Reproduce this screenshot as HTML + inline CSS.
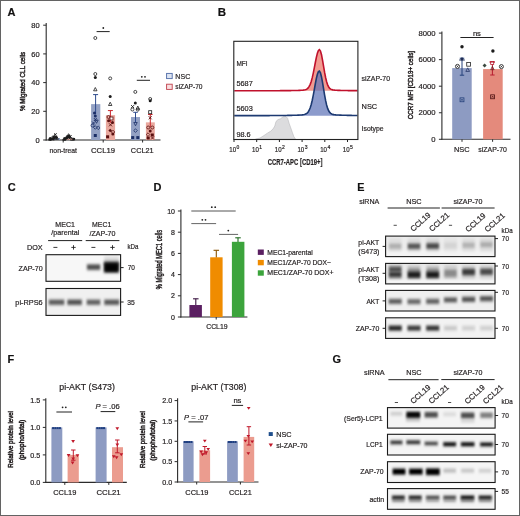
<!DOCTYPE html>
<html><head><meta charset="utf-8"><style>
html,body{margin:0;padding:0;background:#fff;}
svg{display:block;font-family:"Liberation Sans", sans-serif;will-change:transform;}
svg text{stroke:#231f20;stroke-width:0.2px;}
</style></head><body>
<svg width="520" height="516" viewBox="0 0 520 516">
<defs>
<linearGradient id="smear" x1="0" y1="0" x2="0" y2="1"><stop offset="0" stop-color="#000" stop-opacity="0.03"/><stop offset="0.6" stop-color="#000" stop-opacity="0.18"/><stop offset="1" stop-color="#000" stop-opacity="0.55"/></linearGradient>
<filter id="soft" filterUnits="userSpaceOnUse" x="0" y="0" width="520" height="516"><feGaussianBlur stdDeviation="0.45"/></filter>
<filter id="bl1" x="-20%" y="-50%" width="140%" height="200%"><feGaussianBlur stdDeviation="0.8"/></filter>
<filter id="bl2" x="-20%" y="-80%" width="140%" height="260%"><feGaussianBlur stdDeviation="1.2"/></filter>
</defs>
<rect x="0" y="0" width="520" height="516" fill="#fff"/>
<text x="7.60" y="15.80" font-size="11" text-anchor="start" font-weight="bold" fill="#111" stroke="#111" stroke-width="0.35">A</text>
<line x1="46.20" y1="23.00" x2="46.20" y2="140.50" stroke="#2b2b2b" stroke-width="1.1"/>
<line x1="45.70" y1="140.00" x2="160.50" y2="140.00" stroke="#2b2b2b" stroke-width="1.1"/>
<line x1="43.20" y1="140.00" x2="46.20" y2="140.00" stroke="#2b2b2b" stroke-width="1.0"/>
<text x="39.70" y="142.60" font-size="7.5" text-anchor="end" font-weight="normal" fill="#231f20" >0</text>
<line x1="43.20" y1="111.30" x2="46.20" y2="111.30" stroke="#2b2b2b" stroke-width="1.0"/>
<text x="39.70" y="113.90" font-size="7.5" text-anchor="end" font-weight="normal" fill="#231f20" >20</text>
<line x1="43.20" y1="82.60" x2="46.20" y2="82.60" stroke="#2b2b2b" stroke-width="1.0"/>
<text x="39.70" y="85.20" font-size="7.5" text-anchor="end" font-weight="normal" fill="#231f20" >40</text>
<line x1="43.20" y1="53.90" x2="46.20" y2="53.90" stroke="#2b2b2b" stroke-width="1.0"/>
<text x="39.70" y="56.50" font-size="7.5" text-anchor="end" font-weight="normal" fill="#231f20" >60</text>
<line x1="43.20" y1="25.20" x2="46.20" y2="25.20" stroke="#2b2b2b" stroke-width="1.0"/>
<text x="39.70" y="27.80" font-size="7.5" text-anchor="end" font-weight="normal" fill="#231f20" >80</text>
<text x="25.40" y="111.10" font-size="7.2" font-weight="normal" fill="#231f20" style="stroke-width:0.45px" textLength="59.40" lengthAdjust="spacingAndGlyphs" transform="rotate(-90 25.40 111.10)">% Migrated CLL cells</text>
<line x1="63.20" y1="140.00" x2="63.20" y2="142.50" stroke="#2b2b2b" stroke-width="1.0"/>
<line x1="103.20" y1="140.00" x2="103.20" y2="142.50" stroke="#2b2b2b" stroke-width="1.0"/>
<line x1="142.60" y1="140.00" x2="142.60" y2="142.50" stroke="#2b2b2b" stroke-width="1.0"/>
<text x="49.55" y="152.50" font-size="7.6" font-weight="normal" fill="#231f20" textLength="27.40" lengthAdjust="spacingAndGlyphs" >non-treat</text>
<text x="91.05" y="152.60" font-size="7.6" font-weight="normal" fill="#231f20" textLength="24.00" lengthAdjust="spacingAndGlyphs" >CCL19</text>
<text x="130.85" y="152.60" font-size="7.6" font-weight="normal" fill="#231f20" textLength="22.80" lengthAdjust="spacingAndGlyphs" >CCL21</text>
<rect x="51.00" y="137.99" width="9.00" height="2.01" fill="#93a1c4" stroke="none" stroke-width="0" />
<rect x="65.50" y="138.28" width="9.00" height="1.72" fill="#e9a89e" stroke="none" stroke-width="0" />
<rect x="91.10" y="104.12" width="9.20" height="35.88" fill="#93a1c4" stroke="none" stroke-width="0" />
<rect x="105.90" y="115.17" width="9.20" height="24.83" fill="#e9a89e" stroke="none" stroke-width="0" />
<rect x="131.00" y="117.04" width="9.00" height="22.96" fill="#93a1c4" stroke="none" stroke-width="0" />
<rect x="145.90" y="122.35" width="8.90" height="17.65" fill="#e9a89e" stroke="none" stroke-width="0" />
<line x1="95.60" y1="114.17" x2="95.60" y2="94.60" stroke="#2e4a8c" stroke-width="1.0"/>
<line x1="93.10" y1="94.60" x2="98.10" y2="94.60" stroke="#2e4a8c" stroke-width="1.0"/>
<line x1="110.40" y1="122.78" x2="110.40" y2="110.58" stroke="#c8282e" stroke-width="1.0"/>
<line x1="107.90" y1="110.58" x2="112.90" y2="110.58" stroke="#c8282e" stroke-width="1.0"/>
<line x1="135.50" y1="122.06" x2="135.50" y2="112.30" stroke="#2e4a8c" stroke-width="1.0"/>
<line x1="133.25" y1="112.30" x2="137.75" y2="112.30" stroke="#2e4a8c" stroke-width="1.0"/>
<line x1="150.30" y1="127.08" x2="150.30" y2="114.50" stroke="#c8282e" stroke-width="1.0"/>
<line x1="148.05" y1="114.50" x2="152.55" y2="114.50" stroke="#c8282e" stroke-width="1.0"/>
<circle cx="95.30" cy="38.00" r="1.50" fill="none" stroke="#1c1c1c" stroke-width="0.8"/>
<circle cx="95.30" cy="74.00" r="1.50" fill="none" stroke="#1c1c1c" stroke-width="0.8"/>
<circle cx="95.30" cy="77.40" r="1.50" fill="#1c1c1c"/>
<path d="M95.30 87.50 L97.00 90.80 L93.60 90.80Z" fill="none" stroke="#1c1c1c" stroke-width="0.8"/>
<circle cx="95.30" cy="116.00" r="1.50" fill="#1b2e66"/>
<path d="M93.80 118.00L96.80 121.00M96.80 118.00L93.80 121.00" stroke="#1b2e66" stroke-width="0.9"/>
<path d="M94.80 120.00 L98.20 120.00 L96.50 123.30Z" fill="none" stroke="#1b2e66" stroke-width="0.8"/>
<circle cx="92.50" cy="125.50" r="1.50" fill="none" stroke="#1b2e66" stroke-width="0.8"/>
<path d="M95.30 125.70 L97.10 127.50 L95.30 129.30 L93.50 127.50Z" fill="none" stroke="#1b2e66" stroke-width="0.8"/>
<path d="M98.20 126.00 L100.00 127.80 L98.20 129.60 L96.40 127.80Z" fill="none" stroke="#1b2e66" stroke-width="0.8"/>
<rect x="93.80" y="134.00" width="3.00" height="3.00" fill="#1b2e66"/>
<path d="M92.00 121.50L95.00 124.50M95.00 121.50L92.00 124.50" stroke="#1b2e66" stroke-width="0.9"/>
<circle cx="94.50" cy="113.00" r="1.50" fill="#1b2e66"/>
<circle cx="110.20" cy="78.40" r="1.50" fill="none" stroke="#1c1c1c" stroke-width="0.8"/>
<circle cx="110.20" cy="96.40" r="1.50" fill="#1c1c1c"/>
<path d="M110.20 102.20 L111.90 105.50 L108.50 105.50Z" fill="none" stroke="#1c1c1c" stroke-width="0.8"/>
<circle cx="108.50" cy="117.00" r="1.50" fill="none" stroke="#5a1010" stroke-width="0.8"/>
<rect x="110.00" y="117.00" width="3.00" height="3.00" fill="#fff" stroke="#5a1010" stroke-width="0.8"/>
<circle cx="108.60" cy="120.80" r="1.50" fill="#5a1010"/>
<path d="M109.00 123.30L112.00 126.30M112.00 123.30L109.00 126.30" stroke="#5a1010" stroke-width="0.9"/>
<circle cx="112.50" cy="122.50" r="1.50" fill="#5a1010"/>
<path d="M110.20 128.70 L112.00 130.50 L110.20 132.30 L108.40 130.50Z" fill="#5a1010"/>
<path d="M113.00 130.20 L114.80 132.00 L113.00 133.80 L111.20 132.00Z" fill="none" stroke="#5a1010" stroke-width="0.8"/>
<rect x="106.10" y="135.30" width="3.00" height="3.00" fill="#5a1010"/>
<circle cx="112.80" cy="134.00" r="1.50" fill="#5a1010"/>
<circle cx="135.30" cy="91.90" r="1.50" fill="none" stroke="#1c1c1c" stroke-width="0.8"/>
<circle cx="135.30" cy="102.90" r="1.50" fill="#1c1c1c"/>
<path d="M131.10 105.10L134.10 108.10M134.10 105.10L131.10 108.10" stroke="#1c1c1c" stroke-width="0.9"/>
<path d="M137.80 106.00 L139.50 109.30 L136.10 109.30Z" fill="none" stroke="#1c1c1c" stroke-width="0.8"/>
<circle cx="132.40" cy="109.50" r="1.50" fill="none" stroke="#1c1c1c" stroke-width="0.8"/>
<circle cx="137.80" cy="109.60" r="1.50" fill="none" stroke="#1c1c1c" stroke-width="0.8"/>
<path d="M133.80 122.50 L137.20 122.50 L135.50 125.80Z" fill="none" stroke="#1b2e66" stroke-width="0.8"/>
<path d="M135.50 128.80 L137.30 130.60 L135.50 132.40 L133.70 130.60Z" fill="none" stroke="#1b2e66" stroke-width="0.8"/>
<rect x="131.20" y="136.10" width="3.00" height="3.00" fill="#1b2e66"/>
<rect x="136.30" y="136.10" width="3.00" height="3.00" fill="#1b2e66"/>
<circle cx="150.20" cy="100.80" r="1.50" fill="#1c1c1c"/>
<circle cx="150.20" cy="99.00" r="1.50" fill="none" stroke="#1c1c1c" stroke-width="0.8"/>
<rect x="148.70" y="110.70" width="3.00" height="3.00" fill="#fff" stroke="#1c1c1c" stroke-width="0.8"/>
<path d="M148.70 116.30L151.70 119.30M151.70 116.30L148.70 119.30" stroke="#5a1010" stroke-width="0.9"/>
<circle cx="148.20" cy="127.50" r="1.50" fill="none" stroke="#5a1010" stroke-width="0.8"/>
<circle cx="152.30" cy="127.50" r="1.50" fill="none" stroke="#5a1010" stroke-width="0.8"/>
<path d="M148.00 132.80 L149.80 134.60 L148.00 136.40 L146.20 134.60Z" fill="none" stroke="#5a1010" stroke-width="0.8"/>
<rect x="150.80" y="133.50" width="3.00" height="3.00" fill="#5a1010"/>
<circle cx="150.20" cy="131.00" r="1.50" fill="#5a1010"/>
<rect x="146.70" y="136.50" width="3.00" height="3.00" fill="#5a1010"/>
<path d="M151.00 136.50L154.00 139.50M154.00 136.50L151.00 139.50" stroke="#5a1010" stroke-width="0.9"/>
<circle cx="53.06" cy="138.82" r="1.20" fill="#1c1c1c"/>
<circle cx="50.03" cy="138.93" r="1.20" fill="#1c1c1c"/>
<rect x="52.32" y="137.83" width="2.40" height="2.40" fill="#1c1c1c"/>
<path d="M50.66 137.88L53.06 140.28M53.06 137.88L50.66 140.28" stroke="#1c1c1c" stroke-width="0.9"/>
<path d="M49.07 137.96L51.47 140.36M51.47 137.96L49.07 140.36" stroke="#1c1c1c" stroke-width="0.9"/>
<circle cx="50.15" cy="139.00" r="1.20" fill="none" stroke="#1c1c1c" stroke-width="0.8"/>
<circle cx="56.44" cy="137.48" r="1.20" fill="#1c1c1c"/>
<circle cx="55.85" cy="137.87" r="1.20" fill="none" stroke="#1c1c1c" stroke-width="0.8"/>
<path d="M50.01 137.43 L51.41 140.13 L48.61 140.13Z" fill="none" stroke="#1c1c1c" stroke-width="0.8"/>
<rect x="52.91" y="136.20" width="2.40" height="2.40" fill="#1c1c1c"/>
<circle cx="52.89" cy="137.30" r="1.20" fill="none" stroke="#1c1c1c" stroke-width="0.8"/>
<circle cx="50.63" cy="138.88" r="1.20" fill="none" stroke="#1c1c1c" stroke-width="0.8"/>
<circle cx="53.60" cy="137.57" r="1.20" fill="#1c1c1c"/>
<path d="M54.51 135.88L56.91 138.28M56.91 135.88L54.51 138.28" stroke="#1c1c1c" stroke-width="0.9"/>
<path d="M56.98 136.65 L58.38 139.35 L55.58 139.35Z" fill="none" stroke="#1c1c1c" stroke-width="0.8"/>
<path d="M54.62 134.42 L56.02 137.12 L53.22 137.12Z" fill="none" stroke="#1c1c1c" stroke-width="0.8"/>
<circle cx="66.60" cy="137.42" r="1.20" fill="#1c1c1c"/>
<path d="M71.88 137.58 L73.28 140.28 L70.48 140.28Z" fill="none" stroke="#1c1c1c" stroke-width="0.8"/>
<circle cx="69.08" cy="136.07" r="1.20" fill="#1c1c1c"/>
<circle cx="68.24" cy="137.07" r="1.20" fill="#1c1c1c"/>
<path d="M64.60 137.43 L66.00 140.13 L63.20 140.13Z" fill="none" stroke="#1c1c1c" stroke-width="0.8"/>
<circle cx="64.97" cy="138.78" r="1.20" fill="#1c1c1c"/>
<rect x="72.68" y="137.98" width="2.40" height="2.40" fill="#1c1c1c"/>
<path d="M69.60 134.74 L71.00 137.44 L68.20 137.44Z" fill="none" stroke="#1c1c1c" stroke-width="0.8"/>
<path d="M65.84 137.07L68.24 139.47M68.24 137.07L65.84 139.47" stroke="#1c1c1c" stroke-width="0.9"/>
<circle cx="69.68" cy="137.68" r="1.20" fill="#1c1c1c"/>
<circle cx="73.69" cy="139.04" r="1.20" fill="#1c1c1c"/>
<path d="M64.01 137.42 L65.41 140.12 L62.61 140.12Z" fill="none" stroke="#1c1c1c" stroke-width="0.8"/>
<path d="M69.22 135.23L71.62 137.63M71.62 135.23L69.22 137.63" stroke="#1c1c1c" stroke-width="0.9"/>
<circle cx="66.43" cy="138.40" r="1.20" fill="#1c1c1c"/>
<path d="M67.12 135.13 L68.52 137.83 L65.72 137.83Z" fill="none" stroke="#1c1c1c" stroke-width="0.8"/>
<circle cx="65.15" cy="139.09" r="1.20" fill="#1c1c1c"/>
<path d="M54.30 133.20L56.70 135.60M56.70 133.20L54.30 135.60" stroke="#1c1c1c" stroke-width="0.9"/>
<path d="M68.50 133.70 L69.90 136.40 L67.10 136.40Z" fill="none" stroke="#1c1c1c" stroke-width="0.8"/>
<line x1="96.60" y1="31.60" x2="109.70" y2="31.60" stroke="#222" stroke-width="1.0"/>
<circle cx="103.30" cy="28.00" r="0.9" fill="#222"/>
<line x1="136.80" y1="80.30" x2="150.00" y2="80.30" stroke="#222" stroke-width="1.0"/>
<circle cx="141.80" cy="76.80" r="0.9" fill="#222"/>
<circle cx="145.00" cy="76.80" r="0.9" fill="#222"/>
<rect x="166.6" y="73.4" width="5.6" height="5.2" fill="#dde4f2" stroke="#4e6aa6" stroke-width="0.9"/>
<rect x="166.6" y="84.2" width="5.6" height="5.2" fill="#f8dde0" stroke="#c0404a" stroke-width="0.9"/>
<text x="175.35" y="78.60" font-size="7.6" font-weight="normal" fill="#231f20" textLength="14.90" lengthAdjust="spacingAndGlyphs" >NSC</text>
<text x="175.35" y="89.40" font-size="7.6" font-weight="normal" fill="#231f20" textLength="27.20" lengthAdjust="spacingAndGlyphs" >siZAP-70</text>
<text x="217.80" y="16.00" font-size="11.5" text-anchor="start" font-weight="bold" fill="#111" stroke="#111" stroke-width="0.35">B</text>
<path d="M255.50 139.20 L260.00 138.00 L264.00 135.50 L267.30 133.20 L270.50 131.30 L273.00 129.00 L274.80 126.00 L276.00 121.50 L278.00 119.60 L280.50 118.80 L282.50 117.20 L284.20 116.30 L286.00 116.60 L287.60 118.20 L289.20 123.50 L290.80 128.00 L292.30 132.30 L293.80 136.50 L295.50 139.20Z" fill="#dcdcde" stroke="#b8b8bc" stroke-width="0.6"/>
<path d="M234.30 90.77 L235.33 90.77 L236.35 90.77 L237.38 90.77 L238.40 90.77 L239.43 90.77 L240.46 90.77 L241.48 90.77 L242.51 90.77 L243.53 90.77 L244.56 90.76 L245.58 90.76 L246.61 90.76 L247.64 90.76 L248.66 90.76 L249.69 90.76 L250.71 90.76 L251.74 90.76 L252.77 90.76 L253.79 90.75 L254.82 90.75 L255.84 90.75 L256.87 90.75 L257.89 90.75 L258.92 90.75 L259.95 90.74 L260.97 90.74 L262.00 90.74 L263.02 90.74 L264.05 90.74 L265.07 90.73 L266.10 90.73 L267.13 90.73 L268.15 90.73 L269.18 90.72 L270.20 90.72 L271.23 90.72 L272.26 90.71 L273.28 90.71 L274.31 90.71 L275.33 90.70 L276.36 90.70 L277.38 90.69 L278.41 90.69 L279.44 90.68 L280.46 90.67 L281.49 90.67 L282.51 90.66 L283.54 90.65 L284.57 90.65 L285.59 90.64 L286.62 90.63 L287.64 90.62 L288.67 90.60 L289.69 90.59 L290.72 90.58 L291.75 90.56 L292.77 90.55 L293.80 90.53 L294.82 90.51 L295.85 90.48 L296.88 90.46 L297.90 90.43 L298.93 90.40 L299.95 90.36 L300.98 90.31 L302.00 90.25 L303.03 90.16 L304.06 90.02 L305.08 89.79 L306.11 89.43 L307.13 88.83 L308.16 87.88 L309.19 86.43 L310.21 84.32 L311.24 81.42 L312.26 77.66 L313.29 73.08 L314.31 67.90 L315.34 62.51 L316.37 57.42 L317.39 53.24 L318.42 50.50 L319.44 49.60 L320.47 51.00 L321.50 54.69 L322.52 60.03 L323.55 66.14 L324.57 72.16 L325.60 77.47 L326.62 81.72 L327.65 84.84 L328.68 86.97 L329.70 88.33 L330.73 89.14 L331.75 89.61 L332.78 89.89 L333.81 90.05 L334.83 90.15 L335.86 90.22 L336.88 90.28 L337.91 90.33 L338.94 90.37 L339.96 90.40 L340.99 90.43 L342.01 90.46 L343.04 90.49 L344.06 90.51 L345.09 90.53 L346.12 90.55 L347.14 90.56 L348.17 90.58 L349.19 90.59 L350.22 90.61 L351.25 90.62 L352.27 90.63 L353.30 90.64 L354.32 90.65 L355.35 90.65 L356.37 90.66 L357.40 90.67 L357.40 90.8 L234.30 90.8Z" fill="#f08a7c" fill-opacity="0.85" stroke="none"/>
<path d="M234.30 90.77 L235.33 90.77 L236.35 90.77 L237.38 90.77 L238.40 90.77 L239.43 90.77 L240.46 90.77 L241.48 90.77 L242.51 90.77 L243.53 90.77 L244.56 90.76 L245.58 90.76 L246.61 90.76 L247.64 90.76 L248.66 90.76 L249.69 90.76 L250.71 90.76 L251.74 90.76 L252.77 90.76 L253.79 90.75 L254.82 90.75 L255.84 90.75 L256.87 90.75 L257.89 90.75 L258.92 90.75 L259.95 90.74 L260.97 90.74 L262.00 90.74 L263.02 90.74 L264.05 90.74 L265.07 90.73 L266.10 90.73 L267.13 90.73 L268.15 90.73 L269.18 90.72 L270.20 90.72 L271.23 90.72 L272.26 90.71 L273.28 90.71 L274.31 90.71 L275.33 90.70 L276.36 90.70 L277.38 90.69 L278.41 90.69 L279.44 90.68 L280.46 90.67 L281.49 90.67 L282.51 90.66 L283.54 90.65 L284.57 90.65 L285.59 90.64 L286.62 90.63 L287.64 90.62 L288.67 90.60 L289.69 90.59 L290.72 90.58 L291.75 90.56 L292.77 90.55 L293.80 90.53 L294.82 90.51 L295.85 90.48 L296.88 90.46 L297.90 90.43 L298.93 90.40 L299.95 90.36 L300.98 90.31 L302.00 90.25 L303.03 90.16 L304.06 90.02 L305.08 89.79 L306.11 89.43 L307.13 88.83 L308.16 87.88 L309.19 86.43 L310.21 84.32 L311.24 81.42 L312.26 77.66 L313.29 73.08 L314.31 67.90 L315.34 62.51 L316.37 57.42 L317.39 53.24 L318.42 50.50 L319.44 49.60 L320.47 51.00 L321.50 54.69 L322.52 60.03 L323.55 66.14 L324.57 72.16 L325.60 77.47 L326.62 81.72 L327.65 84.84 L328.68 86.97 L329.70 88.33 L330.73 89.14 L331.75 89.61 L332.78 89.89 L333.81 90.05 L334.83 90.15 L335.86 90.22 L336.88 90.28 L337.91 90.33 L338.94 90.37 L339.96 90.40 L340.99 90.43 L342.01 90.46 L343.04 90.49 L344.06 90.51 L345.09 90.53 L346.12 90.55 L347.14 90.56 L348.17 90.58 L349.19 90.59 L350.22 90.61 L351.25 90.62 L352.27 90.63 L353.30 90.64 L354.32 90.65 L355.35 90.65 L356.37 90.66 L357.40 90.67" fill="none" stroke="#c0112c" stroke-width="1.6"/>
<path d="M234.30 115.66 L235.33 115.66 L236.35 115.66 L237.38 115.65 L238.40 115.65 L239.43 115.65 L240.46 115.65 L241.48 115.65 L242.51 115.65 L243.53 115.65 L244.56 115.64 L245.58 115.64 L246.61 115.64 L247.64 115.64 L248.66 115.64 L249.69 115.64 L250.71 115.63 L251.74 115.63 L252.77 115.63 L253.79 115.63 L254.82 115.63 L255.84 115.62 L256.87 115.62 L257.89 115.62 L258.92 115.62 L259.95 115.61 L260.97 115.61 L262.00 115.61 L263.02 115.60 L264.05 115.60 L265.07 115.60 L266.10 115.59 L267.13 115.59 L268.15 115.58 L269.18 115.58 L270.20 115.57 L271.23 115.57 L272.26 115.56 L273.28 115.56 L274.31 115.55 L275.33 115.55 L276.36 115.54 L277.38 115.53 L278.41 115.52 L279.44 115.51 L280.46 115.50 L281.49 115.49 L282.51 115.48 L283.54 115.47 L284.57 115.46 L285.59 115.45 L286.62 115.43 L287.64 115.41 L288.67 115.40 L289.69 115.38 L290.72 115.36 L291.75 115.33 L292.77 115.31 L293.80 115.28 L294.82 115.25 L295.85 115.21 L296.88 115.18 L297.90 115.13 L298.93 115.09 L299.95 115.03 L300.98 114.96 L302.00 114.87 L303.03 114.75 L304.06 114.57 L305.08 114.28 L306.11 113.82 L307.13 113.09 L308.16 111.96 L309.19 110.25 L310.21 107.81 L311.24 104.49 L312.26 100.25 L313.29 95.17 L314.31 89.52 L315.34 83.74 L316.37 78.42 L317.39 74.19 L318.42 71.61 L319.44 71.07 L320.47 72.91 L321.50 76.93 L322.52 82.48 L323.55 88.74 L324.57 94.93 L325.60 100.46 L326.62 104.97 L327.65 108.38 L328.68 110.79 L329.70 112.39 L330.73 113.40 L331.75 114.01 L332.78 114.38 L333.81 114.60 L334.83 114.75 L335.86 114.86 L336.88 114.94 L337.91 115.00 L338.94 115.06 L339.96 115.11 L340.99 115.16 L342.01 115.20 L343.04 115.23 L344.06 115.26 L345.09 115.29 L346.12 115.32 L347.14 115.34 L348.17 115.37 L349.19 115.39 L350.22 115.41 L351.25 115.42 L352.27 115.44 L353.30 115.45 L354.32 115.47 L355.35 115.48 L356.37 115.49 L357.40 115.50 L357.40 115.7 L234.30 115.7Z" fill="#5f75b8" fill-opacity="0.72" stroke="none"/>
<path d="M234.30 115.66 L235.33 115.66 L236.35 115.66 L237.38 115.65 L238.40 115.65 L239.43 115.65 L240.46 115.65 L241.48 115.65 L242.51 115.65 L243.53 115.65 L244.56 115.64 L245.58 115.64 L246.61 115.64 L247.64 115.64 L248.66 115.64 L249.69 115.64 L250.71 115.63 L251.74 115.63 L252.77 115.63 L253.79 115.63 L254.82 115.63 L255.84 115.62 L256.87 115.62 L257.89 115.62 L258.92 115.62 L259.95 115.61 L260.97 115.61 L262.00 115.61 L263.02 115.60 L264.05 115.60 L265.07 115.60 L266.10 115.59 L267.13 115.59 L268.15 115.58 L269.18 115.58 L270.20 115.57 L271.23 115.57 L272.26 115.56 L273.28 115.56 L274.31 115.55 L275.33 115.55 L276.36 115.54 L277.38 115.53 L278.41 115.52 L279.44 115.51 L280.46 115.50 L281.49 115.49 L282.51 115.48 L283.54 115.47 L284.57 115.46 L285.59 115.45 L286.62 115.43 L287.64 115.41 L288.67 115.40 L289.69 115.38 L290.72 115.36 L291.75 115.33 L292.77 115.31 L293.80 115.28 L294.82 115.25 L295.85 115.21 L296.88 115.18 L297.90 115.13 L298.93 115.09 L299.95 115.03 L300.98 114.96 L302.00 114.87 L303.03 114.75 L304.06 114.57 L305.08 114.28 L306.11 113.82 L307.13 113.09 L308.16 111.96 L309.19 110.25 L310.21 107.81 L311.24 104.49 L312.26 100.25 L313.29 95.17 L314.31 89.52 L315.34 83.74 L316.37 78.42 L317.39 74.19 L318.42 71.61 L319.44 71.07 L320.47 72.91 L321.50 76.93 L322.52 82.48 L323.55 88.74 L324.57 94.93 L325.60 100.46 L326.62 104.97 L327.65 108.38 L328.68 110.79 L329.70 112.39 L330.73 113.40 L331.75 114.01 L332.78 114.38 L333.81 114.60 L334.83 114.75 L335.86 114.86 L336.88 114.94 L337.91 115.00 L338.94 115.06 L339.96 115.11 L340.99 115.16 L342.01 115.20 L343.04 115.23 L344.06 115.26 L345.09 115.29 L346.12 115.32 L347.14 115.34 L348.17 115.37 L349.19 115.39 L350.22 115.41 L351.25 115.42 L352.27 115.44 L353.30 115.45 L354.32 115.47 L355.35 115.48 L356.37 115.49 L357.40 115.50" fill="none" stroke="#1d3a72" stroke-width="1.6"/>
<rect x="233.80" y="41.30" width="124.10" height="98.20" fill="none" stroke="#222" stroke-width="1.1"/>
<line x1="234.00" y1="139.50" x2="234.00" y2="142.00" stroke="#222" stroke-width="1.0"/>
<text x="229.35" y="152.10" font-size="7.2" font-weight="normal" fill="#231f20" textLength="6.80" lengthAdjust="spacingAndGlyphs" >10</text>
<text x="236.60" y="149.2" font-size="5.0" fill="#231f20">0</text>
<line x1="256.70" y1="139.50" x2="256.70" y2="142.00" stroke="#222" stroke-width="1.0"/>
<text x="252.05" y="152.10" font-size="7.2" font-weight="normal" fill="#231f20" textLength="6.80" lengthAdjust="spacingAndGlyphs" >10</text>
<text x="259.30" y="149.2" font-size="5.0" fill="#231f20">1</text>
<line x1="279.40" y1="139.50" x2="279.40" y2="142.00" stroke="#222" stroke-width="1.0"/>
<text x="274.75" y="152.10" font-size="7.2" font-weight="normal" fill="#231f20" textLength="6.80" lengthAdjust="spacingAndGlyphs" >10</text>
<text x="282.00" y="149.2" font-size="5.0" fill="#231f20">2</text>
<line x1="302.10" y1="139.50" x2="302.10" y2="142.00" stroke="#222" stroke-width="1.0"/>
<text x="297.45" y="152.10" font-size="7.2" font-weight="normal" fill="#231f20" textLength="6.80" lengthAdjust="spacingAndGlyphs" >10</text>
<text x="304.70" y="149.2" font-size="5.0" fill="#231f20">3</text>
<line x1="324.80" y1="139.50" x2="324.80" y2="142.00" stroke="#222" stroke-width="1.0"/>
<text x="320.15" y="152.10" font-size="7.2" font-weight="normal" fill="#231f20" textLength="6.80" lengthAdjust="spacingAndGlyphs" >10</text>
<text x="327.40" y="149.2" font-size="5.0" fill="#231f20">4</text>
<line x1="347.50" y1="139.50" x2="347.50" y2="142.00" stroke="#222" stroke-width="1.0"/>
<text x="342.85" y="152.10" font-size="7.2" font-weight="normal" fill="#231f20" textLength="6.80" lengthAdjust="spacingAndGlyphs" >10</text>
<text x="350.10" y="149.2" font-size="5.0" fill="#231f20">5</text>
<text x="267.80" y="164.70" font-size="8.6" font-weight="bold" fill="#231f20" textLength="54.60" lengthAdjust="spacingAndGlyphs" >CCR7-APC [CD19+]</text>
<text x="236.45" y="66.40" font-size="7.6" font-weight="normal" fill="#231f20" textLength="11.10" lengthAdjust="spacingAndGlyphs" >MFI</text>
<text x="236.45" y="85.80" font-size="7.6" font-weight="normal" fill="#231f20" textLength="16.30" lengthAdjust="spacingAndGlyphs" >5687</text>
<text x="236.45" y="110.90" font-size="7.6" font-weight="normal" fill="#231f20" textLength="16.30" lengthAdjust="spacingAndGlyphs" >5603</text>
<text x="236.45" y="136.70" font-size="7.6" font-weight="normal" fill="#231f20" textLength="14.20" lengthAdjust="spacingAndGlyphs" >98.6</text>
<text x="361.55" y="81.00" font-size="7.6" font-weight="normal" fill="#231f20" textLength="28.50" lengthAdjust="spacingAndGlyphs" >siZAP-70</text>
<text x="361.55" y="109.40" font-size="7.6" font-weight="normal" fill="#231f20" textLength="15.60" lengthAdjust="spacingAndGlyphs" >NSC</text>
<text x="361.55" y="131.20" font-size="7.6" font-weight="normal" fill="#231f20" textLength="22.10" lengthAdjust="spacingAndGlyphs" >Isotype</text>
<line x1="441.90" y1="31.50" x2="441.90" y2="139.80" stroke="#2b2b2b" stroke-width="1.1"/>
<line x1="441.40" y1="139.30" x2="510.50" y2="139.30" stroke="#2b2b2b" stroke-width="1.1"/>
<line x1="438.90" y1="139.30" x2="441.90" y2="139.30" stroke="#2b2b2b" stroke-width="1.0"/>
<text x="435.60" y="142.00" font-size="7.7" text-anchor="end" font-weight="normal" fill="#231f20" >0</text>
<line x1="438.90" y1="112.75" x2="441.90" y2="112.75" stroke="#2b2b2b" stroke-width="1.0"/>
<text x="435.60" y="115.45" font-size="7.7" text-anchor="end" font-weight="normal" fill="#231f20" >2000</text>
<line x1="438.90" y1="86.20" x2="441.90" y2="86.20" stroke="#2b2b2b" stroke-width="1.0"/>
<text x="435.60" y="88.90" font-size="7.7" text-anchor="end" font-weight="normal" fill="#231f20" >4000</text>
<line x1="438.90" y1="59.65" x2="441.90" y2="59.65" stroke="#2b2b2b" stroke-width="1.0"/>
<text x="435.60" y="62.35" font-size="7.7" text-anchor="end" font-weight="normal" fill="#231f20" >6000</text>
<line x1="438.90" y1="33.10" x2="441.90" y2="33.10" stroke="#2b2b2b" stroke-width="1.0"/>
<text x="435.60" y="35.80" font-size="7.7" text-anchor="end" font-weight="normal" fill="#231f20" >8000</text>
<text x="413.40" y="119.20" font-size="7.2" font-weight="normal" fill="#231f20" style="stroke-width:0.45px" textLength="68.20" lengthAdjust="spacingAndGlyphs" transform="rotate(-90 413.40 119.20)">CCR7 MFI [CD19+ cells]</text>
<rect x="452.20" y="68.10" width="19.50" height="71.20" fill="#8d9bc2" stroke="none" stroke-width="0" />
<rect x="483.10" y="69.10" width="19.60" height="70.20" fill="#e48a7c" stroke="none" stroke-width="0" />
<line x1="462.00" y1="139.30" x2="462.00" y2="141.80" stroke="#2b2b2b" stroke-width="1.0"/>
<line x1="492.60" y1="139.30" x2="492.60" y2="141.80" stroke="#2b2b2b" stroke-width="1.0"/>
<text x="453.95" y="152.40" font-size="7.6" font-weight="normal" fill="#231f20" textLength="15.70" lengthAdjust="spacingAndGlyphs" >NSC</text>
<text x="478.35" y="152.40" font-size="7.6" font-weight="normal" fill="#231f20" textLength="28.50" lengthAdjust="spacingAndGlyphs" >siZAP-70</text>
<line x1="460.40" y1="37.50" x2="493.60" y2="37.50" stroke="#222" stroke-width="1.0"/>
<text x="476.90" y="35.70" font-size="7.6" text-anchor="middle" font-weight="normal" fill="#231f20" >ns</text>
<line x1="462.00" y1="75.20" x2="462.00" y2="58.20" stroke="#24407a" stroke-width="1.0"/>
<line x1="459.75" y1="58.20" x2="464.25" y2="58.20" stroke="#24407a" stroke-width="1.0"/>
<line x1="492.40" y1="75.00" x2="492.40" y2="62.00" stroke="#b81c30" stroke-width="1.0"/>
<line x1="490.15" y1="62.00" x2="494.65" y2="62.00" stroke="#b81c30" stroke-width="1.0"/>
<line x1="459.80" y1="75.20" x2="464.20" y2="75.20" stroke="#24407a" stroke-width="1.0"/>
<line x1="490.20" y1="75.00" x2="494.60" y2="75.00" stroke="#b81c30" stroke-width="1.0"/>
<circle cx="462.00" cy="46.70" r="1.72" fill="#1c1c1c"/>
<path d="M462.00 57.10 L463.80 58.90 L462.00 60.70 L460.20 58.90Z" fill="#1f2d55"/>
<line x1="459.20" y1="60.00" x2="464.80" y2="60.00" stroke="#1f2d55" stroke-width="1.0"/>
<rect x="466.73" y="62.42" width="3.75" height="3.75" fill="#fff" stroke="#222" stroke-width="0.8"/>
<circle cx="457.50" cy="66.40" r="2.05" fill="#fff" stroke="#1c1c1c" stroke-width="0.8"/>
<path d="M456.51 65.41L458.49 67.39M458.49 65.41L456.51 67.39" stroke="#1c1c1c" stroke-width="0.7"/>
<path d="M467.70 67.85 L469.55 71.45 L465.85 71.45Z" fill="none" stroke="#2a3a6a" stroke-width="0.8"/>
<rect x="460.05" y="97.85" width="3.90" height="3.90" fill="none" stroke="#24407a" stroke-width="0.8"/>
<path d="M461.09 98.89L462.91 100.71M462.91 98.89L461.09 100.71" stroke="#24407a" stroke-width="0.7"/>
<circle cx="492.90" cy="51.00" r="1.72" fill="#1c1c1c"/>
<path d="M484.60 63.48 L486.63 65.50 L484.60 67.52 L482.57 65.50Z" fill="#3c4a40"/>
<rect x="490.70" y="61.50" width="3.00" height="3.00" fill="#fff" stroke="#b81c30" stroke-width="0.8"/>
<line x1="489.40" y1="62.00" x2="495.00" y2="62.00" stroke="#b81c30" stroke-width="1.0"/>
<circle cx="501.40" cy="66.60" r="2.05" fill="#fff" stroke="#1c1c1c" stroke-width="0.8"/>
<path d="M500.41 65.61L502.39 67.59M502.39 65.61L500.41 67.59" stroke="#1c1c1c" stroke-width="0.7"/>
<path d="M492.40 66.40 L494.10 69.70 L490.70 69.70Z" fill="none" stroke="#6a1a20" stroke-width="0.8"/>
<rect x="490.65" y="94.85" width="3.90" height="3.90" fill="none" stroke="#4a1010" stroke-width="0.8"/>
<path d="M491.69 95.89L493.51 97.71M493.51 95.89L491.69 97.71" stroke="#4a1010" stroke-width="0.7"/>
<text x="7.80" y="191.40" font-size="11" text-anchor="start" font-weight="bold" fill="#111" stroke="#111" stroke-width="0.35">C</text>
<text x="55.35" y="226.80" font-size="7.6" font-weight="normal" fill="#231f20" textLength="19.60" lengthAdjust="spacingAndGlyphs" >MEC1</text>
<text x="51.35" y="235.30" font-size="7.6" font-weight="normal" fill="#231f20" textLength="27.90" lengthAdjust="spacingAndGlyphs" >/parental</text>
<text x="92.05" y="226.80" font-size="7.6" font-weight="normal" fill="#231f20" textLength="19.20" lengthAdjust="spacingAndGlyphs" >MEC1</text>
<text x="89.45" y="235.50" font-size="7.6" font-weight="normal" fill="#231f20" textLength="26.10" lengthAdjust="spacingAndGlyphs" >/ZAP-70</text>
<line x1="48.10" y1="240.60" x2="82.20" y2="240.60" stroke="#222" stroke-width="1.0"/>
<line x1="85.70" y1="240.60" x2="119.40" y2="240.60" stroke="#222" stroke-width="1.0"/>
<text x="27.05" y="249.80" font-size="7.6" font-weight="normal" fill="#231f20" textLength="15.60" lengthAdjust="spacingAndGlyphs" >DOX</text>
<line x1="53.40" y1="247.40" x2="57.40" y2="247.40" stroke="#222" stroke-width="0.9"/>
<line x1="91.40" y1="247.40" x2="95.40" y2="247.40" stroke="#222" stroke-width="0.9"/>
<line x1="71.30" y1="247.40" x2="75.70" y2="247.40" stroke="#222" stroke-width="0.9"/>
<line x1="73.50" y1="245.20" x2="73.50" y2="249.60" stroke="#222" stroke-width="0.9"/>
<line x1="110.30" y1="247.40" x2="114.70" y2="247.40" stroke="#222" stroke-width="0.9"/>
<line x1="112.50" y1="245.20" x2="112.50" y2="249.60" stroke="#222" stroke-width="0.9"/>
<text x="127.45" y="249.40" font-size="7.6" font-weight="normal" fill="#231f20" textLength="11.00" lengthAdjust="spacingAndGlyphs" >kDa</text>
<rect x="46.00" y="254.70" width="74.60" height="26.60" fill="#f7f7f7" stroke="none" stroke-width="0" />
<rect x="86.50" y="263.00" width="14.20" height="8.20" rx="1" fill="#000" fill-opacity="0.180" filter="url(#bl2)"/>
<rect x="87.20" y="264.80" width="12.80" height="4.60" rx="0.8" fill="#000" fill-opacity="0.600" filter="url(#bl1)"/>
<rect x="104.2" y="255.5" width="14.6" height="9" fill="url(#smear)" filter="url(#bl1)"/>
<rect x="103.50" y="261.10" width="15.80" height="12.60" rx="1" fill="#000" fill-opacity="0.340" filter="url(#bl2)"/>
<rect x="104.20" y="262.90" width="14.40" height="9.00" rx="0.8" fill="#000" fill-opacity="0.850" filter="url(#bl2)"/>
<rect x="105.00" y="263.05" width="13.10" height="9.10" rx="1" fill="#000" fill-opacity="0.198" filter="url(#bl2)"/>
<rect x="105.70" y="264.85" width="11.70" height="5.50" rx="0.8" fill="#000" fill-opacity="0.900" filter="url(#bl1)"/>
<rect x="46.00" y="254.70" width="74.60" height="26.60" fill="none" stroke="#1a1a1a" stroke-width="1.1"/>
<rect x="46.00" y="288.50" width="74.60" height="26.90" fill="#f0f0f0" stroke="none" stroke-width="0" />
<rect x="48.40" y="298.40" width="16.30" height="7.60" rx="1" fill="#000" fill-opacity="0.225" filter="url(#bl2)"/>
<rect x="49.10" y="300.20" width="14.90" height="4.00" rx="0.8" fill="#000" fill-opacity="0.500" filter="url(#bl1)"/>
<rect x="67.00" y="298.40" width="15.20" height="7.60" rx="1" fill="#000" fill-opacity="0.248" filter="url(#bl2)"/>
<rect x="67.70" y="300.20" width="13.80" height="4.00" rx="0.8" fill="#000" fill-opacity="0.550" filter="url(#bl1)"/>
<rect x="86.30" y="298.40" width="14.40" height="7.60" rx="1" fill="#000" fill-opacity="0.216" filter="url(#bl2)"/>
<rect x="87.00" y="300.20" width="13.00" height="4.00" rx="0.8" fill="#000" fill-opacity="0.480" filter="url(#bl1)"/>
<rect x="103.90" y="298.40" width="15.70" height="7.60" rx="1" fill="#000" fill-opacity="0.234" filter="url(#bl2)"/>
<rect x="104.60" y="300.20" width="14.30" height="4.00" rx="0.8" fill="#000" fill-opacity="0.520" filter="url(#bl1)"/>
<rect x="46.00" y="288.50" width="74.60" height="26.90" fill="none" stroke="#1a1a1a" stroke-width="1.1"/>
<line x1="120.60" y1="267.60" x2="123.60" y2="267.60" stroke="#222" stroke-width="1.0"/>
<line x1="120.60" y1="302.00" x2="123.60" y2="302.00" stroke="#222" stroke-width="1.0"/>
<text x="127.65" y="270.30" font-size="7.6" font-weight="normal" fill="#231f20" textLength="7.20" lengthAdjust="spacingAndGlyphs" >70</text>
<text x="127.25" y="304.70" font-size="7.6" font-weight="normal" fill="#231f20" textLength="7.50" lengthAdjust="spacingAndGlyphs" >35</text>
<text x="18.55" y="270.70" font-size="7.6" font-weight="normal" fill="#231f20" textLength="24.10" lengthAdjust="spacingAndGlyphs" >ZAP-70</text>
<text x="15.35" y="305.00" font-size="7.6" font-weight="normal" fill="#231f20" textLength="27.30" lengthAdjust="spacingAndGlyphs" >pi-RPS6</text>
<text x="153.60" y="191.00" font-size="11" text-anchor="start" font-weight="bold" fill="#111" stroke="#111" stroke-width="0.35">D</text>
<line x1="180.90" y1="209.50" x2="180.90" y2="317.50" stroke="#2b2b2b" stroke-width="1.1"/>
<line x1="180.40" y1="317.00" x2="247.40" y2="317.00" stroke="#2b2b2b" stroke-width="1.1"/>
<line x1="177.90" y1="317.00" x2="180.90" y2="317.00" stroke="#2b2b2b" stroke-width="1.0"/>
<text x="175.00" y="319.50" font-size="7.0" text-anchor="end" font-weight="normal" fill="#231f20" >0</text>
<line x1="177.90" y1="295.80" x2="180.90" y2="295.80" stroke="#2b2b2b" stroke-width="1.0"/>
<text x="175.00" y="298.30" font-size="7.0" text-anchor="end" font-weight="normal" fill="#231f20" >2</text>
<line x1="177.90" y1="274.60" x2="180.90" y2="274.60" stroke="#2b2b2b" stroke-width="1.0"/>
<text x="175.00" y="277.10" font-size="7.0" text-anchor="end" font-weight="normal" fill="#231f20" >4</text>
<line x1="177.90" y1="253.40" x2="180.90" y2="253.40" stroke="#2b2b2b" stroke-width="1.0"/>
<text x="175.00" y="255.90" font-size="7.0" text-anchor="end" font-weight="normal" fill="#231f20" >6</text>
<line x1="177.90" y1="232.20" x2="180.90" y2="232.20" stroke="#2b2b2b" stroke-width="1.0"/>
<text x="175.00" y="234.70" font-size="7.0" text-anchor="end" font-weight="normal" fill="#231f20" >8</text>
<line x1="177.90" y1="211.00" x2="180.90" y2="211.00" stroke="#2b2b2b" stroke-width="1.0"/>
<text x="175.00" y="213.50" font-size="7.0" text-anchor="end" font-weight="normal" fill="#231f20" >10</text>
<text x="161.60" y="289.30" font-size="8.2" font-weight="normal" fill="#231f20" style="stroke-width:0.45px" textLength="59.50" lengthAdjust="spacingAndGlyphs" transform="rotate(-90 161.60 289.30)">% Migrated MEC1 cells</text>
<line x1="216.20" y1="317.00" x2="216.20" y2="319.50" stroke="#2b2b2b" stroke-width="1.0"/>
<text x="206.15" y="328.60" font-size="7.6" font-weight="normal" fill="#231f20" textLength="21.50" lengthAdjust="spacingAndGlyphs" >CCL19</text>
<line x1="195.80" y1="305.34" x2="195.80" y2="298.80" stroke="#3a1540" stroke-width="1.1"/>
<line x1="193.05" y1="298.80" x2="198.55" y2="298.80" stroke="#3a1540" stroke-width="1.1"/>
<rect x="189.40" y="305.02" width="12.50" height="11.98" fill="#5a1f61" stroke="none" stroke-width="0" />
<line x1="216.30" y1="257.64" x2="216.30" y2="250.30" stroke="#8a5200" stroke-width="1.1"/>
<line x1="213.55" y1="250.30" x2="219.05" y2="250.30" stroke="#8a5200" stroke-width="1.1"/>
<rect x="210.20" y="257.30" width="12.40" height="59.70" fill="#f08c00" stroke="none" stroke-width="0" />
<line x1="238.00" y1="242.80" x2="238.00" y2="237.80" stroke="#1f6a1f" stroke-width="1.1"/>
<line x1="235.25" y1="237.80" x2="240.75" y2="237.80" stroke="#1f6a1f" stroke-width="1.1"/>
<rect x="231.90" y="241.80" width="12.50" height="75.20" fill="#3ca43c" stroke="none" stroke-width="0" />
<line x1="191.30" y1="211.00" x2="235.70" y2="211.00" stroke="#555" stroke-width="1.0"/>
<circle cx="211.80" cy="207.20" r="0.9" fill="#222"/>
<circle cx="215.20" cy="207.20" r="0.9" fill="#222"/>
<line x1="191.30" y1="223.60" x2="216.10" y2="223.60" stroke="#666" stroke-width="1.0"/>
<circle cx="202.30" cy="219.80" r="0.9" fill="#222"/>
<circle cx="205.50" cy="219.80" r="0.9" fill="#222"/>
<line x1="219.00" y1="234.40" x2="238.10" y2="234.40" stroke="#666" stroke-width="1.0"/>
<circle cx="228.30" cy="230.60" r="0.9" fill="#222"/>
<rect x="257.80" y="249.50" width="6.00" height="5.40" fill="#5a1f61" stroke="none" stroke-width="0" />
<rect x="257.80" y="259.90" width="6.00" height="5.40" fill="#f08c00" stroke="none" stroke-width="0" />
<rect x="257.80" y="270.30" width="6.00" height="5.40" fill="#3ca43c" stroke="none" stroke-width="0" />
<text x="267.35" y="254.60" font-size="7.6" font-weight="normal" fill="#231f20" textLength="45.40" lengthAdjust="spacingAndGlyphs" >MEC1-parental</text>
<text x="267.35" y="265.00" font-size="7.6" font-weight="normal" fill="#231f20" textLength="63.60" lengthAdjust="spacingAndGlyphs" >MEC1/ZAP-70 DOX−</text>
<text x="267.35" y="275.40" font-size="7.6" font-weight="normal" fill="#231f20" textLength="66.20" lengthAdjust="spacingAndGlyphs" >MEC1/ZAP-70 DOX+</text>
<text x="357.30" y="191.20" font-size="10.8" text-anchor="start" font-weight="bold" fill="#111" stroke="#111" stroke-width="0.35">E</text>
<text x="359.15" y="203.60" font-size="7.6" font-weight="normal" fill="#231f20" textLength="20.10" lengthAdjust="spacingAndGlyphs" >siRNA</text>
<text x="406.15" y="203.50" font-size="7.6" font-weight="normal" fill="#231f20" textLength="15.50" lengthAdjust="spacingAndGlyphs" >NSC</text>
<text x="453.45" y="203.70" font-size="7.6" font-weight="normal" fill="#231f20" textLength="29.00" lengthAdjust="spacingAndGlyphs" >siZAP-70</text>
<line x1="387.60" y1="208.00" x2="439.90" y2="208.00" stroke="#222" stroke-width="1.0"/>
<line x1="441.60" y1="208.00" x2="494.60" y2="208.00" stroke="#222" stroke-width="1.0"/>
<line x1="393.60" y1="225.30" x2="396.80" y2="225.30" stroke="#222" stroke-width="0.8"/>
<line x1="448.90" y1="225.30" x2="452.10" y2="225.30" stroke="#222" stroke-width="0.8"/>
<text x="413.20" y="232.00" font-size="7.8" text-anchor="start" font-weight="normal" fill="#231f20"  transform="rotate(-42 413.20 232.00)">CCL19</text>
<text x="432.00" y="232.00" font-size="7.8" text-anchor="start" font-weight="normal" fill="#231f20"  transform="rotate(-42 432.00 232.00)">CCL21</text>
<text x="468.20" y="232.50" font-size="7.8" text-anchor="start" font-weight="normal" fill="#231f20"  transform="rotate(-42 468.20 232.50)">CCL19</text>
<text x="487.40" y="232.50" font-size="7.8" text-anchor="start" font-weight="normal" fill="#231f20"  transform="rotate(-42 487.40 232.50)">CCL21</text>
<text x="501.55" y="232.90" font-size="7.6" font-weight="normal" fill="#231f20" textLength="11.10" lengthAdjust="spacingAndGlyphs" >kDa</text>
<rect x="385.6" y="236.1" width="109.39999999999998" height="20.50000000000003" fill="#ececec"/>
<rect x="385.6" y="250.1" width="109.39999999999998" height="6.500000000000028" fill="#f3f3f3" filter="url(#bl1)"/>
<rect x="388.90" y="238.00" width="12.6" height="14.00" fill="#000" fill-opacity="0.050" filter="url(#bl2)"/>
<rect x="407.70" y="238.00" width="12.6" height="14.00" fill="#000" fill-opacity="0.060" filter="url(#bl2)"/>
<rect x="426.40" y="238.00" width="12.6" height="14.00" fill="#000" fill-opacity="0.070" filter="url(#bl2)"/>
<rect x="444.20" y="238.00" width="12.6" height="14.00" fill="#000" fill-opacity="0.030" filter="url(#bl2)"/>
<rect x="462.30" y="238.00" width="12.6" height="14.00" fill="#000" fill-opacity="0.050" filter="url(#bl2)"/>
<rect x="480.20" y="238.00" width="12.6" height="14.00" fill="#000" fill-opacity="0.060" filter="url(#bl2)"/>
<rect x="388.50" y="242.30" width="13.40" height="8.00" rx="1" fill="#000" fill-opacity="0.064" filter="url(#bl2)"/>
<rect x="389.20" y="244.10" width="12.00" height="4.40" rx="0.8" fill="#000" fill-opacity="0.160" filter="url(#bl1)"/>
<rect x="407.30" y="242.20" width="13.40" height="8.00" rx="1" fill="#000" fill-opacity="0.200" filter="url(#bl2)"/>
<rect x="408.00" y="244.00" width="12.00" height="4.40" rx="0.8" fill="#000" fill-opacity="0.500" filter="url(#bl1)"/>
<rect x="426.00" y="242.00" width="13.40" height="8.00" rx="1" fill="#000" fill-opacity="0.224" filter="url(#bl2)"/>
<rect x="426.70" y="243.80" width="12.00" height="4.40" rx="0.8" fill="#000" fill-opacity="0.560" filter="url(#bl1)"/>
<rect x="443.80" y="241.50" width="13.40" height="8.00" rx="1" fill="#000" fill-opacity="0.024" filter="url(#bl2)"/>
<rect x="444.50" y="243.30" width="12.00" height="4.40" rx="0.8" fill="#000" fill-opacity="0.060" filter="url(#bl1)"/>
<rect x="461.90" y="241.20" width="13.40" height="8.00" rx="1" fill="#000" fill-opacity="0.060" filter="url(#bl2)"/>
<rect x="462.60" y="243.00" width="12.00" height="4.40" rx="0.8" fill="#000" fill-opacity="0.150" filter="url(#bl1)"/>
<rect x="479.80" y="240.60" width="13.40" height="8.00" rx="1" fill="#000" fill-opacity="0.068" filter="url(#bl2)"/>
<rect x="480.50" y="242.40" width="12.00" height="4.40" rx="0.8" fill="#000" fill-opacity="0.170" filter="url(#bl1)"/>
<rect x="385.60" y="236.10" width="109.40" height="20.50" fill="none" stroke="#1a1a1a" stroke-width="1.1"/>
<rect x="385.6" y="263.4" width="109.39999999999998" height="20.5" fill="#e9e9e9"/>
<rect x="385.6" y="279.9" width="109.39999999999998" height="3.5" fill="#f6f6f6" filter="url(#bl1)"/>
<rect x="388.90" y="265.00" width="12.6" height="14.00" fill="#000" fill-opacity="0.180" filter="url(#bl2)"/>
<rect x="407.70" y="265.00" width="12.6" height="14.00" fill="#000" fill-opacity="0.100" filter="url(#bl2)"/>
<rect x="426.40" y="265.00" width="12.6" height="14.00" fill="#000" fill-opacity="0.100" filter="url(#bl2)"/>
<rect x="444.20" y="265.00" width="12.6" height="14.00" fill="#000" fill-opacity="0.100" filter="url(#bl2)"/>
<rect x="462.30" y="265.00" width="12.6" height="14.00" fill="#000" fill-opacity="0.100" filter="url(#bl2)"/>
<rect x="480.20" y="265.00" width="12.6" height="14.00" fill="#000" fill-opacity="0.080" filter="url(#bl2)"/>
<rect x="388.60" y="265.60" width="13.20" height="7.20" rx="1" fill="#000" fill-opacity="0.200" filter="url(#bl2)"/>
<rect x="389.30" y="267.40" width="11.80" height="3.60" rx="0.8" fill="#000" fill-opacity="0.500" filter="url(#bl1)"/>
<rect x="388.60" y="270.80" width="13.20" height="7.60" rx="1" fill="#000" fill-opacity="0.248" filter="url(#bl2)"/>
<rect x="389.30" y="272.60" width="11.80" height="4.00" rx="0.8" fill="#000" fill-opacity="0.620" filter="url(#bl1)"/>
<rect x="407.40" y="266.45" width="13.20" height="7.10" rx="1" fill="#000" fill-opacity="0.066" filter="url(#bl2)"/>
<rect x="408.10" y="268.25" width="11.80" height="3.50" rx="0.8" fill="#000" fill-opacity="0.220" filter="url(#bl1)"/>
<rect x="426.10" y="266.45" width="13.20" height="7.10" rx="1" fill="#000" fill-opacity="0.066" filter="url(#bl2)"/>
<rect x="426.80" y="268.25" width="11.80" height="3.50" rx="0.8" fill="#000" fill-opacity="0.220" filter="url(#bl1)"/>
<rect x="407.30" y="270.50" width="13.40" height="8.60" rx="1" fill="#000" fill-opacity="0.351" filter="url(#bl2)"/>
<rect x="408.00" y="272.30" width="12.00" height="5.00" rx="0.8" fill="#000" fill-opacity="0.780" filter="url(#bl1)"/>
<rect x="426.00" y="270.50" width="13.40" height="8.60" rx="1" fill="#000" fill-opacity="0.360" filter="url(#bl2)"/>
<rect x="426.70" y="272.30" width="12.00" height="5.00" rx="0.8" fill="#000" fill-opacity="0.800" filter="url(#bl1)"/>
<rect x="443.80" y="268.40" width="13.40" height="9.60" rx="1" fill="#000" fill-opacity="0.113" filter="url(#bl2)"/>
<rect x="444.50" y="270.20" width="12.00" height="6.00" rx="0.8" fill="#000" fill-opacity="0.250" filter="url(#bl1)"/>
<rect x="461.90" y="267.70" width="13.40" height="8.60" rx="1" fill="#000" fill-opacity="0.279" filter="url(#bl2)"/>
<rect x="462.60" y="269.50" width="12.00" height="5.00" rx="0.8" fill="#000" fill-opacity="0.620" filter="url(#bl1)"/>
<rect x="479.80" y="267.50" width="13.40" height="8.60" rx="1" fill="#000" fill-opacity="0.248" filter="url(#bl2)"/>
<rect x="480.50" y="269.30" width="12.00" height="5.00" rx="0.8" fill="#000" fill-opacity="0.550" filter="url(#bl1)"/>
<rect x="385.60" y="263.40" width="109.40" height="20.50" fill="none" stroke="#1a1a1a" stroke-width="1.1"/>
<rect x="385.6" y="290.4" width="109.39999999999998" height="20.600000000000023" fill="#efefef"/>
<rect x="388.30" y="297.70" width="13.80" height="7.40" rx="1" fill="#000" fill-opacity="0.225" filter="url(#bl2)"/>
<rect x="389.00" y="299.50" width="12.40" height="3.80" rx="0.8" fill="#000" fill-opacity="0.500" filter="url(#bl1)"/>
<rect x="407.10" y="297.90" width="13.80" height="7.40" rx="1" fill="#000" fill-opacity="0.203" filter="url(#bl2)"/>
<rect x="407.80" y="299.70" width="12.40" height="3.80" rx="0.8" fill="#000" fill-opacity="0.450" filter="url(#bl1)"/>
<rect x="425.80" y="297.60" width="13.80" height="7.40" rx="1" fill="#000" fill-opacity="0.216" filter="url(#bl2)"/>
<rect x="426.50" y="299.40" width="12.40" height="3.80" rx="0.8" fill="#000" fill-opacity="0.480" filter="url(#bl1)"/>
<rect x="443.60" y="296.20" width="13.80" height="7.40" rx="1" fill="#000" fill-opacity="0.225" filter="url(#bl2)"/>
<rect x="444.30" y="298.00" width="12.40" height="3.80" rx="0.8" fill="#000" fill-opacity="0.500" filter="url(#bl1)"/>
<rect x="461.70" y="295.60" width="13.80" height="7.40" rx="1" fill="#000" fill-opacity="0.248" filter="url(#bl2)"/>
<rect x="462.40" y="297.40" width="12.40" height="3.80" rx="0.8" fill="#000" fill-opacity="0.550" filter="url(#bl1)"/>
<rect x="479.60" y="295.00" width="13.80" height="7.40" rx="1" fill="#000" fill-opacity="0.248" filter="url(#bl2)"/>
<rect x="480.30" y="296.80" width="12.40" height="3.80" rx="0.8" fill="#000" fill-opacity="0.550" filter="url(#bl1)"/>
<rect x="385.60" y="290.40" width="109.40" height="20.60" fill="none" stroke="#1a1a1a" stroke-width="1.1"/>
<rect x="385.6" y="317.8" width="109.39999999999998" height="20.599999999999966" fill="#f2f2f2"/>
<rect x="388.30" y="324.40" width="13.80" height="7.40" rx="1" fill="#000" fill-opacity="0.338" filter="url(#bl2)"/>
<rect x="389.00" y="326.20" width="12.40" height="3.80" rx="0.8" fill="#000" fill-opacity="0.750" filter="url(#bl1)"/>
<rect x="407.10" y="324.40" width="13.80" height="7.40" rx="1" fill="#000" fill-opacity="0.297" filter="url(#bl2)"/>
<rect x="407.80" y="326.20" width="12.40" height="3.80" rx="0.8" fill="#000" fill-opacity="0.660" filter="url(#bl1)"/>
<rect x="425.80" y="324.40" width="13.80" height="7.40" rx="1" fill="#000" fill-opacity="0.306" filter="url(#bl2)"/>
<rect x="426.50" y="326.20" width="12.40" height="3.80" rx="0.8" fill="#000" fill-opacity="0.680" filter="url(#bl1)"/>
<rect x="443.60" y="324.40" width="13.80" height="7.40" rx="1" fill="#000" fill-opacity="0.054" filter="url(#bl2)"/>
<rect x="444.30" y="326.20" width="12.40" height="3.80" rx="0.8" fill="#000" fill-opacity="0.120" filter="url(#bl1)"/>
<rect x="461.70" y="324.40" width="13.80" height="7.40" rx="1" fill="#000" fill-opacity="0.045" filter="url(#bl2)"/>
<rect x="462.40" y="326.20" width="12.40" height="3.80" rx="0.8" fill="#000" fill-opacity="0.100" filter="url(#bl1)"/>
<rect x="479.60" y="324.40" width="13.80" height="7.40" rx="1" fill="#000" fill-opacity="0.045" filter="url(#bl2)"/>
<rect x="480.30" y="326.20" width="12.40" height="3.80" rx="0.8" fill="#000" fill-opacity="0.100" filter="url(#bl1)"/>
<rect x="385.60" y="317.80" width="109.40" height="20.60" fill="none" stroke="#1a1a1a" stroke-width="1.1"/>
<line x1="382.60" y1="246.40" x2="385.60" y2="246.40" stroke="#222" stroke-width="1.0"/>
<line x1="382.60" y1="273.30" x2="385.60" y2="273.30" stroke="#222" stroke-width="1.0"/>
<line x1="382.60" y1="300.90" x2="385.60" y2="300.90" stroke="#222" stroke-width="1.0"/>
<line x1="382.60" y1="328.30" x2="385.60" y2="328.30" stroke="#222" stroke-width="1.0"/>
<line x1="495.00" y1="238.60" x2="498.00" y2="238.60" stroke="#222" stroke-width="1.0"/>
<text x="501.85" y="241.20" font-size="7.6" font-weight="normal" fill="#231f20" textLength="7.10" lengthAdjust="spacingAndGlyphs" >70</text>
<line x1="495.00" y1="266.00" x2="498.00" y2="266.00" stroke="#222" stroke-width="1.0"/>
<text x="501.85" y="268.60" font-size="7.6" font-weight="normal" fill="#231f20" textLength="7.10" lengthAdjust="spacingAndGlyphs" >70</text>
<line x1="495.00" y1="292.30" x2="498.00" y2="292.30" stroke="#222" stroke-width="1.0"/>
<text x="501.85" y="294.90" font-size="7.6" font-weight="normal" fill="#231f20" textLength="7.10" lengthAdjust="spacingAndGlyphs" >70</text>
<line x1="495.00" y1="328.30" x2="498.00" y2="328.30" stroke="#222" stroke-width="1.0"/>
<text x="501.85" y="330.90" font-size="7.6" font-weight="normal" fill="#231f20" textLength="7.10" lengthAdjust="spacingAndGlyphs" >70</text>
<text x="358.35" y="244.70" font-size="7.6" font-weight="normal" fill="#231f20" textLength="20.90" lengthAdjust="spacingAndGlyphs" >pi-AKT</text>
<text x="358.35" y="253.90" font-size="7.6" font-weight="normal" fill="#231f20" textLength="21.10" lengthAdjust="spacingAndGlyphs" >(S473)</text>
<text x="358.35" y="272.00" font-size="7.6" font-weight="normal" fill="#231f20" textLength="20.90" lengthAdjust="spacingAndGlyphs" >pi-AKT</text>
<text x="358.35" y="281.00" font-size="7.6" font-weight="normal" fill="#231f20" textLength="21.10" lengthAdjust="spacingAndGlyphs" >(T308)</text>
<text x="366.45" y="303.50" font-size="7.6" font-weight="normal" fill="#231f20" textLength="12.80" lengthAdjust="spacingAndGlyphs" >AKT</text>
<text x="355.75" y="330.90" font-size="7.6" font-weight="normal" fill="#231f20" textLength="23.50" lengthAdjust="spacingAndGlyphs" >ZAP-70</text>
<text x="7.50" y="362.60" font-size="11" text-anchor="start" font-weight="bold" fill="#111" stroke="#111" stroke-width="0.35">F</text>
<text x="59.35" y="389.90" font-size="8.6" font-weight="normal" fill="#231f20" textLength="55.60" lengthAdjust="spacingAndGlyphs" >pi-AKT (S473)</text>
<line x1="45.80" y1="398.30" x2="45.80" y2="482.90" stroke="#2b2b2b" stroke-width="1.1"/>
<line x1="45.30" y1="482.40" x2="126.80" y2="482.40" stroke="#2b2b2b" stroke-width="1.1"/>
<line x1="42.80" y1="482.40" x2="45.80" y2="482.40" stroke="#2b2b2b" stroke-width="1.0"/>
<text x="40.20" y="485.00" font-size="7.2" text-anchor="end" font-weight="normal" fill="#231f20" >0.0</text>
<line x1="42.80" y1="454.90" x2="45.80" y2="454.90" stroke="#2b2b2b" stroke-width="1.0"/>
<text x="40.20" y="457.50" font-size="7.2" text-anchor="end" font-weight="normal" fill="#231f20" >0.5</text>
<line x1="42.80" y1="427.40" x2="45.80" y2="427.40" stroke="#2b2b2b" stroke-width="1.0"/>
<text x="40.20" y="430.00" font-size="7.2" text-anchor="end" font-weight="normal" fill="#231f20" >1.0</text>
<line x1="42.80" y1="399.90" x2="45.80" y2="399.90" stroke="#2b2b2b" stroke-width="1.0"/>
<text x="40.20" y="402.50" font-size="7.2" text-anchor="end" font-weight="normal" fill="#231f20" >1.5</text>
<text x="12.90" y="467.70" font-size="6.6" font-weight="normal" fill="#231f20" style="stroke-width:0.45px" textLength="56.70" lengthAdjust="spacingAndGlyphs" transform="rotate(-90 12.90 467.70)">Relative protein level</text>
<text x="24.20" y="460.10" font-size="6.6" font-weight="normal" fill="#231f20" style="stroke-width:0.45px" textLength="40.40" lengthAdjust="spacingAndGlyphs" transform="rotate(-90 24.20 460.10)">(phopho/total)</text>
<line x1="64.80" y1="482.40" x2="64.80" y2="484.90" stroke="#2b2b2b" stroke-width="1.0"/>
<line x1="108.80" y1="482.40" x2="108.80" y2="484.90" stroke="#2b2b2b" stroke-width="1.0"/>
<text x="53.15" y="494.90" font-size="7.6" font-weight="normal" fill="#231f20" textLength="23.20" lengthAdjust="spacingAndGlyphs" >CCL19</text>
<text x="96.45" y="494.90" font-size="7.6" font-weight="normal" fill="#231f20" textLength="24.20" lengthAdjust="spacingAndGlyphs" >CCL21</text>
<rect x="51.40" y="427.40" width="10.90" height="55.00" fill="#8d9bc2" stroke="none" stroke-width="0" />
<rect x="95.60" y="427.40" width="11.00" height="55.00" fill="#8d9bc2" stroke="none" stroke-width="0" />
<rect x="52.10" y="427.10" width="2.20" height="2.00" fill="#1f3f80" stroke="none" stroke-width="0" />
<rect x="54.30" y="427.10" width="2.20" height="2.00" fill="#1f3f80" stroke="none" stroke-width="0" />
<rect x="56.50" y="427.10" width="2.20" height="2.00" fill="#1f3f80" stroke="none" stroke-width="0" />
<rect x="58.70" y="427.10" width="2.20" height="2.00" fill="#1f3f80" stroke="none" stroke-width="0" />
<rect x="96.30" y="427.10" width="2.20" height="2.00" fill="#1f3f80" stroke="none" stroke-width="0" />
<rect x="98.50" y="427.10" width="2.20" height="2.00" fill="#1f3f80" stroke="none" stroke-width="0" />
<rect x="100.70" y="427.10" width="2.20" height="2.00" fill="#1f3f80" stroke="none" stroke-width="0" />
<rect x="102.90" y="427.10" width="2.20" height="2.00" fill="#1f3f80" stroke="none" stroke-width="0" />
<rect x="67.60" y="454.90" width="11.20" height="27.50" fill="#eb9c8f" stroke="none" stroke-width="0" />
<rect x="112.00" y="447.20" width="11.00" height="35.20" fill="#eb9c8f" stroke="none" stroke-width="0" />
<line x1="73.30" y1="454.90" x2="73.30" y2="450.00" stroke="#c0182a" stroke-width="1.0"/>
<line x1="71.05" y1="450.00" x2="75.55" y2="450.00" stroke="#c0182a" stroke-width="1.0"/>
<line x1="71.10" y1="460.20" x2="75.50" y2="460.20" stroke="#c0182a" stroke-width="1.0"/>
<line x1="73.30" y1="454.90" x2="73.30" y2="460.20" stroke="#c0182a" stroke-width="1.0"/>
<line x1="117.30" y1="447.20" x2="117.30" y2="440.00" stroke="#c0182a" stroke-width="1.0"/>
<line x1="115.05" y1="440.00" x2="119.55" y2="440.00" stroke="#c0182a" stroke-width="1.0"/>
<line x1="115.10" y1="452.80" x2="119.50" y2="452.80" stroke="#c0182a" stroke-width="1.0"/>
<line x1="117.30" y1="447.20" x2="117.30" y2="452.80" stroke="#c0182a" stroke-width="1.0"/>
<path d="M71.22 440.12 L74.97 440.12 L73.10 442.97Z" fill="#c0182a"/>
<path d="M66.72 454.03 L70.47 454.03 L68.60 456.88Z" fill="#c0182a"/>
<path d="M75.53 454.33 L79.28 454.33 L77.40 457.18Z" fill="#c0182a"/>
<path d="M71.33 457.53 L75.08 457.53 L73.20 460.38Z" fill="#c0182a"/>
<path d="M70.72 461.53 L74.47 461.53 L72.60 464.38Z" fill="#c0182a"/>
<path d="M115.42 427.33 L119.17 427.33 L117.30 430.18Z" fill="#c0182a"/>
<path d="M115.42 443.53 L119.17 443.53 L117.30 446.38Z" fill="#c0182a"/>
<path d="M111.92 455.33 L115.67 455.33 L113.80 458.18Z" fill="#c0182a"/>
<path d="M119.42 453.33 L123.17 453.33 L121.30 456.18Z" fill="#c0182a"/>
<path d="M114.72 456.33 L118.47 456.33 L116.60 459.18Z" fill="#c0182a"/>
<line x1="56.40" y1="412.00" x2="72.00" y2="412.00" stroke="#222" stroke-width="1.0"/>
<circle cx="62.60" cy="407.30" r="0.9" fill="#222"/>
<circle cx="65.80" cy="407.30" r="0.9" fill="#222"/>
<text x="95.4" y="409.3" font-size="7.6" fill="#231f20"><tspan font-style="italic">P</tspan> = .06</text>
<line x1="100.60" y1="411.60" x2="115.30" y2="411.60" stroke="#222" stroke-width="1.0"/>
<text x="191.35" y="389.90" font-size="8.6" font-weight="normal" fill="#231f20" textLength="55.10" lengthAdjust="spacingAndGlyphs" >pi-AKT (T308)</text>
<line x1="177.60" y1="398.20" x2="177.60" y2="482.50" stroke="#2b2b2b" stroke-width="1.1"/>
<line x1="177.10" y1="482.00" x2="258.50" y2="482.00" stroke="#2b2b2b" stroke-width="1.1"/>
<line x1="174.60" y1="482.00" x2="177.60" y2="482.00" stroke="#2b2b2b" stroke-width="1.0"/>
<text x="172.20" y="484.60" font-size="7.2" text-anchor="end" font-weight="normal" fill="#231f20" >0.0</text>
<line x1="174.60" y1="461.65" x2="177.60" y2="461.65" stroke="#2b2b2b" stroke-width="1.0"/>
<text x="172.20" y="464.25" font-size="7.2" text-anchor="end" font-weight="normal" fill="#231f20" >0.5</text>
<line x1="174.60" y1="441.30" x2="177.60" y2="441.30" stroke="#2b2b2b" stroke-width="1.0"/>
<text x="172.20" y="443.90" font-size="7.2" text-anchor="end" font-weight="normal" fill="#231f20" >1.0</text>
<line x1="174.60" y1="420.95" x2="177.60" y2="420.95" stroke="#2b2b2b" stroke-width="1.0"/>
<text x="172.20" y="423.55" font-size="7.2" text-anchor="end" font-weight="normal" fill="#231f20" >1.5</text>
<line x1="174.60" y1="400.60" x2="177.60" y2="400.60" stroke="#2b2b2b" stroke-width="1.0"/>
<text x="172.20" y="403.20" font-size="7.2" text-anchor="end" font-weight="normal" fill="#231f20" >2.0</text>
<text x="144.70" y="468.00" font-size="6.6" font-weight="normal" fill="#231f20" style="stroke-width:0.45px" textLength="57.00" lengthAdjust="spacingAndGlyphs" transform="rotate(-90 144.70 468.00)">Relative protein level</text>
<text x="155.50" y="460.70" font-size="6.6" font-weight="normal" fill="#231f20" style="stroke-width:0.45px" textLength="41.00" lengthAdjust="spacingAndGlyphs" transform="rotate(-90 155.50 460.70)">(phopho/total)</text>
<line x1="196.70" y1="482.00" x2="196.70" y2="484.50" stroke="#2b2b2b" stroke-width="1.0"/>
<line x1="240.40" y1="482.00" x2="240.40" y2="484.50" stroke="#2b2b2b" stroke-width="1.0"/>
<text x="185.25" y="494.60" font-size="7.6" font-weight="normal" fill="#231f20" textLength="23.20" lengthAdjust="spacingAndGlyphs" >CCL19</text>
<text x="228.95" y="494.60" font-size="7.6" font-weight="normal" fill="#231f20" textLength="22.80" lengthAdjust="spacingAndGlyphs" >CCL21</text>
<rect x="183.20" y="441.30" width="10.40" height="40.70" fill="#8d9bc2" stroke="none" stroke-width="0" />
<rect x="227.10" y="441.30" width="10.70" height="40.70" fill="#8d9bc2" stroke="none" stroke-width="0" />
<rect x="183.70" y="441.00" width="2.20" height="2.00" fill="#1f3f80" stroke="none" stroke-width="0" />
<rect x="185.90" y="441.00" width="2.20" height="2.00" fill="#1f3f80" stroke="none" stroke-width="0" />
<rect x="188.10" y="441.00" width="2.20" height="2.00" fill="#1f3f80" stroke="none" stroke-width="0" />
<rect x="190.30" y="441.00" width="2.20" height="2.00" fill="#1f3f80" stroke="none" stroke-width="0" />
<rect x="227.80" y="441.00" width="2.20" height="2.00" fill="#1f3f80" stroke="none" stroke-width="0" />
<rect x="230.00" y="441.00" width="2.20" height="2.00" fill="#1f3f80" stroke="none" stroke-width="0" />
<rect x="232.20" y="441.00" width="2.20" height="2.00" fill="#1f3f80" stroke="none" stroke-width="0" />
<rect x="234.40" y="441.00" width="2.20" height="2.00" fill="#1f3f80" stroke="none" stroke-width="0" />
<rect x="199.40" y="450.30" width="10.70" height="31.70" fill="#eb9c8f" stroke="none" stroke-width="0" />
<rect x="243.60" y="436.90" width="10.60" height="45.10" fill="#eb9c8f" stroke="none" stroke-width="0" />
<line x1="204.80" y1="446.50" x2="204.80" y2="454.00" stroke="#c0182a" stroke-width="1.0"/>
<line x1="202.60" y1="446.50" x2="207.00" y2="446.50" stroke="#c0182a" stroke-width="1.0"/>
<line x1="202.60" y1="454.00" x2="207.00" y2="454.00" stroke="#c0182a" stroke-width="1.0"/>
<line x1="248.90" y1="426.70" x2="248.90" y2="445.00" stroke="#c0182a" stroke-width="1.0"/>
<line x1="246.70" y1="426.70" x2="251.10" y2="426.70" stroke="#c0182a" stroke-width="1.0"/>
<line x1="246.70" y1="445.00" x2="251.10" y2="445.00" stroke="#c0182a" stroke-width="1.0"/>
<path d="M202.93 439.73 L206.68 439.73 L204.80 442.57Z" fill="#c0182a"/>
<path d="M199.32 450.53 L203.07 450.53 L201.20 453.38Z" fill="#c0182a"/>
<path d="M206.32 447.93 L210.07 447.93 L208.20 450.77Z" fill="#c0182a"/>
<path d="M200.62 453.33 L204.38 453.33 L202.50 456.18Z" fill="#c0182a"/>
<path d="M204.32 451.33 L208.07 451.33 L206.20 454.18Z" fill="#c0182a"/>
<path d="M246.82 406.93 L250.57 406.93 L248.70 409.77Z" fill="#c0182a"/>
<path d="M246.43 434.93 L250.18 434.93 L248.30 437.77Z" fill="#c0182a"/>
<path d="M243.53 439.73 L247.28 439.73 L245.40 442.57Z" fill="#c0182a"/>
<path d="M250.32 440.43 L254.07 440.43 L252.20 443.27Z" fill="#c0182a"/>
<path d="M246.43 452.23 L250.18 452.23 L248.30 455.07Z" fill="#c0182a"/>
<text x="184.1" y="420.3" font-size="7.6" fill="#231f20"><tspan font-style="italic">P</tspan> = .07</text>
<line x1="188.40" y1="421.90" x2="203.10" y2="421.90" stroke="#222" stroke-width="1.0"/>
<line x1="231.80" y1="405.40" x2="243.10" y2="405.40" stroke="#222" stroke-width="1.0"/>
<text x="237.40" y="403.20" font-size="7.6" text-anchor="middle" font-weight="normal" fill="#231f20" >ns</text>
<rect x="268.70" y="432.10" width="4.10" height="3.90" fill="#1f4e8c" stroke="none" stroke-width="0" />
<path d="M268.6 443.4 L273.0 443.4 L270.8 447.0Z" fill="#c0182a"/>
<text x="276.25" y="436.50" font-size="7.6" font-weight="normal" fill="#231f20" textLength="15.40" lengthAdjust="spacingAndGlyphs" >NSC</text>
<text x="276.25" y="447.80" font-size="7.6" font-weight="normal" fill="#231f20" textLength="31.20" lengthAdjust="spacingAndGlyphs" >si-ZAP-70</text>
<text x="332.60" y="362.80" font-size="11" text-anchor="start" font-weight="bold" fill="#111" stroke="#111" stroke-width="0.35">G</text>
<text x="364.05" y="374.90" font-size="7.6" font-weight="normal" fill="#231f20" textLength="20.60" lengthAdjust="spacingAndGlyphs" >siRNA</text>
<text x="406.25" y="374.80" font-size="7.6" font-weight="normal" fill="#231f20" textLength="15.40" lengthAdjust="spacingAndGlyphs" >NSC</text>
<text x="453.45" y="374.90" font-size="7.6" font-weight="normal" fill="#231f20" textLength="29.00" lengthAdjust="spacingAndGlyphs" >siZAP-70</text>
<line x1="388.40" y1="379.70" x2="438.60" y2="379.70" stroke="#222" stroke-width="1.0"/>
<line x1="441.30" y1="379.60" x2="494.60" y2="379.60" stroke="#222" stroke-width="1.0"/>
<line x1="394.80" y1="402.50" x2="398.00" y2="402.50" stroke="#222" stroke-width="0.8"/>
<line x1="448.00" y1="402.50" x2="451.20" y2="402.50" stroke="#222" stroke-width="0.8"/>
<text x="413.20" y="404.30" font-size="7.8" text-anchor="start" font-weight="normal" fill="#231f20"  transform="rotate(-42 413.20 404.30)">CCL19</text>
<text x="431.40" y="404.30" font-size="7.8" text-anchor="start" font-weight="normal" fill="#231f20"  transform="rotate(-42 431.40 404.30)">CCL21</text>
<text x="467.40" y="404.40" font-size="7.8" text-anchor="start" font-weight="normal" fill="#231f20"  transform="rotate(-42 467.40 404.40)">CCL19</text>
<text x="485.80" y="404.40" font-size="7.8" text-anchor="start" font-weight="normal" fill="#231f20"  transform="rotate(-42 485.80 404.40)">CCL21</text>
<text x="501.55" y="404.10" font-size="7.6" font-weight="normal" fill="#231f20" textLength="11.20" lengthAdjust="spacingAndGlyphs" >kDa</text>
<rect x="387.5" y="407.6" width="107.60000000000002" height="20.5" fill="#f4f4f4"/>
<rect x="389.90" y="410.25" width="13.00" height="7.10" rx="1" fill="#000" fill-opacity="0.026" filter="url(#bl2)"/>
<rect x="390.60" y="412.05" width="11.60" height="3.50" rx="0.8" fill="#000" fill-opacity="0.120" filter="url(#bl1)"/>
<rect x="405.90" y="410.15" width="14.80" height="9.10" rx="1" fill="#000" fill-opacity="0.209" filter="url(#bl2)"/>
<rect x="406.60" y="411.95" width="13.40" height="5.50" rx="0.8" fill="#000" fill-opacity="0.950" filter="url(#bl1)"/>
<rect x="424.10" y="410.40" width="14.20" height="8.60" rx="1" fill="#000" fill-opacity="0.136" filter="url(#bl2)"/>
<rect x="424.80" y="412.20" width="12.80" height="5.00" rx="0.8" fill="#000" fill-opacity="0.620" filter="url(#bl1)"/>
<rect x="442.80" y="410.65" width="13.70" height="7.10" rx="1" fill="#000" fill-opacity="0.018" filter="url(#bl2)"/>
<rect x="443.50" y="412.45" width="12.30" height="3.50" rx="0.8" fill="#000" fill-opacity="0.080" filter="url(#bl1)"/>
<rect x="460.50" y="411.00" width="14.40" height="8.60" rx="1" fill="#000" fill-opacity="0.132" filter="url(#bl2)"/>
<rect x="461.20" y="412.80" width="13.00" height="5.00" rx="0.8" fill="#000" fill-opacity="0.600" filter="url(#bl1)"/>
<rect x="479.70" y="410.90" width="13.70" height="8.60" rx="1" fill="#000" fill-opacity="0.092" filter="url(#bl2)"/>
<rect x="480.40" y="412.70" width="12.30" height="5.00" rx="0.8" fill="#000" fill-opacity="0.420" filter="url(#bl1)"/>
<rect x="406" y="414" width="14" height="8" fill="#000" fill-opacity="0.15" filter="url(#bl2)"/>
<rect x="461" y="415" width="13.5" height="8" fill="#000" fill-opacity="0.1" filter="url(#bl2)"/>
<rect x="387.50" y="407.60" width="107.60" height="20.50" fill="none" stroke="#1a1a1a" stroke-width="1.1"/>
<rect x="387.5" y="434.3" width="107.60000000000002" height="20.69999999999999" fill="#f5f5f5"/>
<rect x="389.90" y="439.15" width="13.00" height="6.50" rx="1" fill="#000" fill-opacity="0.216" filter="url(#bl2)"/>
<rect x="390.60" y="440.95" width="11.60" height="2.90" rx="0.8" fill="#000" fill-opacity="0.720" filter="url(#bl1)"/>
<rect x="405.90" y="439.05" width="14.80" height="6.50" rx="1" fill="#000" fill-opacity="0.216" filter="url(#bl2)"/>
<rect x="406.60" y="440.85" width="13.40" height="2.90" rx="0.8" fill="#000" fill-opacity="0.720" filter="url(#bl1)"/>
<rect x="424.10" y="440.25" width="14.20" height="6.50" rx="1" fill="#000" fill-opacity="0.180" filter="url(#bl2)"/>
<rect x="424.80" y="442.05" width="12.80" height="2.90" rx="0.8" fill="#000" fill-opacity="0.600" filter="url(#bl1)"/>
<rect x="442.80" y="440.95" width="13.70" height="6.50" rx="1" fill="#000" fill-opacity="0.285" filter="url(#bl2)"/>
<rect x="443.50" y="442.75" width="12.30" height="2.90" rx="0.8" fill="#000" fill-opacity="0.950" filter="url(#bl1)"/>
<rect x="460.50" y="441.05" width="14.40" height="6.50" rx="1" fill="#000" fill-opacity="0.285" filter="url(#bl2)"/>
<rect x="461.20" y="442.85" width="13.00" height="2.90" rx="0.8" fill="#000" fill-opacity="0.950" filter="url(#bl1)"/>
<rect x="479.70" y="441.15" width="13.70" height="6.50" rx="1" fill="#000" fill-opacity="0.276" filter="url(#bl2)"/>
<rect x="480.40" y="442.95" width="12.30" height="2.90" rx="0.8" fill="#000" fill-opacity="0.920" filter="url(#bl1)"/>
<rect x="387.50" y="434.30" width="107.60" height="20.70" fill="none" stroke="#1a1a1a" stroke-width="1.1"/>
<rect x="387.5" y="461.7" width="107.60000000000002" height="20.80000000000001" fill="#f5f5f5"/>
<rect x="392.10" y="467.10" width="13.80" height="9.00" rx="1" fill="#000" fill-opacity="0.220" filter="url(#bl2)"/>
<rect x="392.80" y="468.90" width="12.40" height="5.40" rx="0.8" fill="#000" fill-opacity="1.000" filter="url(#bl1)"/>
<rect x="408.60" y="467.10" width="14.50" height="9.00" rx="1" fill="#000" fill-opacity="0.220" filter="url(#bl2)"/>
<rect x="409.30" y="468.90" width="13.10" height="5.40" rx="0.8" fill="#000" fill-opacity="1.000" filter="url(#bl1)"/>
<rect x="425.50" y="467.00" width="14.70" height="9.60" rx="1" fill="#000" fill-opacity="0.220" filter="url(#bl2)"/>
<rect x="426.20" y="468.80" width="13.30" height="6.00" rx="0.8" fill="#000" fill-opacity="1.000" filter="url(#bl1)"/>
<rect x="442.80" y="467.00" width="13.70" height="7.20" rx="1" fill="#000" fill-opacity="0.040" filter="url(#bl2)"/>
<rect x="443.50" y="468.80" width="12.30" height="3.60" rx="0.8" fill="#000" fill-opacity="0.180" filter="url(#bl1)"/>
<rect x="460.50" y="467.00" width="14.20" height="7.20" rx="1" fill="#000" fill-opacity="0.033" filter="url(#bl2)"/>
<rect x="461.20" y="468.80" width="12.80" height="3.60" rx="0.8" fill="#000" fill-opacity="0.150" filter="url(#bl1)"/>
<rect x="478.20" y="467.20" width="13.60" height="7.20" rx="1" fill="#000" fill-opacity="0.026" filter="url(#bl2)"/>
<rect x="478.90" y="469.00" width="12.20" height="3.60" rx="0.8" fill="#000" fill-opacity="0.120" filter="url(#bl1)"/>
<rect x="387.50" y="461.70" width="107.60" height="20.80" fill="none" stroke="#1a1a1a" stroke-width="1.1"/>
<rect x="387.5" y="488.6" width="107.60000000000002" height="20.69999999999999" fill="#f4f4f4"/>
<rect x="391.50" y="494.30" width="13.70" height="6.20" rx="1" fill="#000" fill-opacity="0.246" filter="url(#bl2)"/>
<rect x="392.20" y="496.10" width="12.30" height="2.60" rx="0.8" fill="#000" fill-opacity="0.820" filter="url(#bl1)"/>
<rect x="391.50" y="497.10" width="13.70" height="6.60" rx="1" fill="#000" fill-opacity="0.066" filter="url(#bl2)"/>
<rect x="392.20" y="498.90" width="12.30" height="3.00" rx="0.8" fill="#000" fill-opacity="0.328" filter="url(#bl1)"/>
<rect x="408.30" y="494.30" width="13.80" height="6.20" rx="1" fill="#000" fill-opacity="0.246" filter="url(#bl2)"/>
<rect x="409.00" y="496.10" width="12.40" height="2.60" rx="0.8" fill="#000" fill-opacity="0.820" filter="url(#bl1)"/>
<rect x="408.30" y="497.10" width="13.80" height="6.60" rx="1" fill="#000" fill-opacity="0.066" filter="url(#bl2)"/>
<rect x="409.00" y="498.90" width="12.40" height="3.00" rx="0.8" fill="#000" fill-opacity="0.328" filter="url(#bl1)"/>
<rect x="425.50" y="494.30" width="14.40" height="6.20" rx="1" fill="#000" fill-opacity="0.180" filter="url(#bl2)"/>
<rect x="426.20" y="496.10" width="13.00" height="2.60" rx="0.8" fill="#000" fill-opacity="0.600" filter="url(#bl1)"/>
<rect x="425.50" y="497.10" width="14.40" height="6.60" rx="1" fill="#000" fill-opacity="0.048" filter="url(#bl2)"/>
<rect x="426.20" y="498.90" width="13.00" height="3.00" rx="0.8" fill="#000" fill-opacity="0.240" filter="url(#bl1)"/>
<rect x="442.80" y="494.30" width="13.70" height="6.20" rx="1" fill="#000" fill-opacity="0.186" filter="url(#bl2)"/>
<rect x="443.50" y="496.10" width="12.30" height="2.60" rx="0.8" fill="#000" fill-opacity="0.620" filter="url(#bl1)"/>
<rect x="442.80" y="497.10" width="13.70" height="6.60" rx="1" fill="#000" fill-opacity="0.050" filter="url(#bl2)"/>
<rect x="443.50" y="498.90" width="12.30" height="3.00" rx="0.8" fill="#000" fill-opacity="0.248" filter="url(#bl1)"/>
<rect x="460.20" y="494.30" width="14.50" height="6.20" rx="1" fill="#000" fill-opacity="0.276" filter="url(#bl2)"/>
<rect x="460.90" y="496.10" width="13.10" height="2.60" rx="0.8" fill="#000" fill-opacity="0.920" filter="url(#bl1)"/>
<rect x="460.20" y="497.10" width="14.50" height="6.60" rx="1" fill="#000" fill-opacity="0.074" filter="url(#bl2)"/>
<rect x="460.90" y="498.90" width="13.10" height="3.00" rx="0.8" fill="#000" fill-opacity="0.368" filter="url(#bl1)"/>
<rect x="478.20" y="494.30" width="14.10" height="6.20" rx="1" fill="#000" fill-opacity="0.255" filter="url(#bl2)"/>
<rect x="478.90" y="496.10" width="12.70" height="2.60" rx="0.8" fill="#000" fill-opacity="0.850" filter="url(#bl1)"/>
<rect x="478.20" y="497.10" width="14.10" height="6.60" rx="1" fill="#000" fill-opacity="0.068" filter="url(#bl2)"/>
<rect x="478.90" y="498.90" width="12.70" height="3.00" rx="0.8" fill="#000" fill-opacity="0.340" filter="url(#bl1)"/>
<rect x="387.50" y="488.60" width="107.60" height="20.70" fill="none" stroke="#1a1a1a" stroke-width="1.1"/>
<line x1="495.10" y1="415.50" x2="498.10" y2="415.50" stroke="#222" stroke-width="1.0"/>
<line x1="495.10" y1="444.50" x2="498.10" y2="444.50" stroke="#222" stroke-width="1.0"/>
<line x1="495.10" y1="471.90" x2="498.10" y2="471.90" stroke="#222" stroke-width="1.0"/>
<line x1="495.10" y1="491.40" x2="498.10" y2="491.40" stroke="#222" stroke-width="1.0"/>
<text x="501.55" y="418.20" font-size="7.6" font-weight="normal" fill="#231f20" textLength="7.30" lengthAdjust="spacingAndGlyphs" >70</text>
<text x="501.55" y="447.20" font-size="7.6" font-weight="normal" fill="#231f20" textLength="7.30" lengthAdjust="spacingAndGlyphs" >70</text>
<text x="501.55" y="474.60" font-size="7.6" font-weight="normal" fill="#231f20" textLength="7.30" lengthAdjust="spacingAndGlyphs" >70</text>
<text x="501.55" y="494.00" font-size="7.6" font-weight="normal" fill="#231f20" textLength="7.30" lengthAdjust="spacingAndGlyphs" >55</text>
<text x="344.05" y="420.60" font-size="7.6" font-weight="normal" fill="#231f20" textLength="38.50" lengthAdjust="spacingAndGlyphs" >(Ser5)-LCP1</text>
<text x="366.35" y="447.00" font-size="7.6" font-weight="normal" fill="#231f20" textLength="16.20" lengthAdjust="spacingAndGlyphs" >LCP1</text>
<text x="360.35" y="474.10" font-size="7.6" font-weight="normal" fill="#231f20" textLength="23.20" lengthAdjust="spacingAndGlyphs" >ZAP-70</text>
<text x="369.45" y="501.60" font-size="7.6" font-weight="normal" fill="#231f20" textLength="14.70" lengthAdjust="spacingAndGlyphs" >actin</text>
<rect x="0.5" y="0.5" width="519" height="515" fill="none" stroke="#636363" stroke-width="1"/>
</svg>
</body></html>
